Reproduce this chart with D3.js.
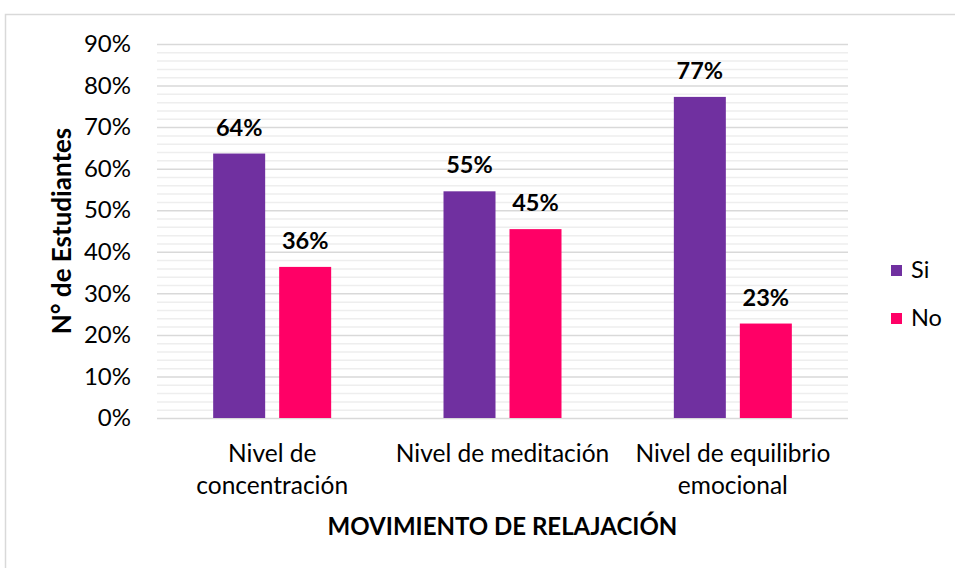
<!DOCTYPE html>
<html>
<head lang="es">
    <meta charset="UTF-8">
    <title></title>
    <script src="https://cdn.jsdelivr.net/npm/d3@7"></script>
    <style>
        body{margin:0;background:#fff;}
        text{font-family:Lato,"Open Sans",sans-serif;fill:#000;}
        .grid-major line{stroke:#d9d9d9;stroke-width:1.5px;}
        .grid-minor line{stroke:#eeeeee;stroke-width:1.5px;}
        .axis path,.axis line{display:none;}
    </style>
</head>
<body>
<script>
    var categorias=[["Nivel de","concentración"],["Nivel de meditación"],["Nivel de equilibrio","emocional"]];
    var series=["Si","No"];
    var valoresSi=[63.64,54.55,77.27];
    var valoresNo=[36.36,45.45,22.73];
    var ticksY=[0,10,20,30,40,50,60,70,80,90];
    var colores=["#7030a0","#ff0066"];

    var W=955,H=568;
    var margen={left:157,right:107,top:44,bottom:150};
    var ancho=W-margen.left-margen.right,alto=H-margen.top-margen.bottom;

    var svg=d3.select("body").append("svg").attr("width",W).attr("height",H);
    //borde del grafico
    svg.append("rect").attr("x",5.5).attr("y",14.5).attr("width",W).attr("height",H)
        .attr("fill","none").attr("stroke","#d9d9d9").attr("stroke-width",1.5);

    var g=svg.append("g").attr("transform","translate("+margen.left+","+margen.top+")");

    var x0=d3.scaleBand().domain(d3.range(categorias.length)).range([0,ancho]).paddingInner(0).paddingOuter(0);
    var y=d3.scaleLinear().domain([0,90]).range([alto,0]);

    //lineas menores cada 2%
    g.append("g").attr("class","grid-minor")
        .call(d3.axisLeft(y).tickValues(d3.range(0,91,2).filter(function(v){return v%10!=0;})).tickSize(-ancho).tickFormat(""))
        .select(".domain").remove();
    g.append("g").attr("class","grid-major")
        .call(d3.axisLeft(y).tickValues(ticksY).tickSize(-ancho).tickFormat(""))
        .select(".domain").remove();

    g.append("g").attr("class","axis")
        .call(d3.axisLeft(y).tickValues(ticksY).tickFormat(function(d){return d+"%";}).tickSize(0).tickPadding(26))
        .selectAll("text").style("font-size","24px");

    var anchoBarra=52,separacion=14;
    var datos=[];
    categorias.forEach(function(c,i){
        datos.push({cat:i,serie:0,valor:valoresSi[i]});
        datos.push({cat:i,serie:1,valor:valoresNo[i]});
    });
    function xBarra(d){
        var centro=x0(d.cat)+x0.bandwidth()/2;
        return d.serie==0?centro-separacion/2-anchoBarra:centro+separacion/2;
    }
    g.selectAll("rect.barra").data(datos).enter().append("rect")
        .attr("class","barra")
        .attr("x",xBarra)
        .attr("y",function(d){return y(d.valor);})
        .attr("width",anchoBarra)
        .attr("height",function(d){return alto-y(d.valor);})
        .attr("fill",function(d){return colores[d.serie];});

    g.selectAll("text.etiqueta").data(datos).enter().append("text")
        .attr("class","etiqueta")
        .attr("x",function(d){return xBarra(d)+anchoBarra/2;})
        .attr("y",function(d){return y(d.valor)-18;})
        .attr("text-anchor","middle")
        .style("font-size","23.5px").style("font-weight","bold")
        .text(function(d){return Math.round(d.valor)+"%";});

    //etiquetas de categoria
    var etq=g.selectAll("text.cat").data(categorias).enter().append("text")
        .attr("class","cat")
        .attr("text-anchor","middle")
        .attr("transform",function(d,i){return "translate("+(x0(i)+x0.bandwidth()/2)+","+(alto+44)+")";})
        .style("font-size","24.5px");
    etq.selectAll("tspan").data(function(d){return d;}).enter().append("tspan")
        .attr("x",0).attr("dy",function(d,i){return i==0?0:32;})
        .text(function(d){return d;});

    svg.append("text").attr("x",margen.left+ancho/2).attr("y",535)
        .attr("text-anchor","middle").style("font-size","24px").style("font-weight","bold")
        .text("MOVIMIENTO DE RELAJACIÓN");

    svg.append("text").attr("transform","translate(71,"+(margen.top+alto/2)+") rotate(-90)")
        .attr("text-anchor","middle").style("font-size","26px").style("font-weight","bold")
        .text("N° de Estudiantes");

    var ley=svg.selectAll("g.ley").data(series).enter().append("g")
        .attr("transform",function(d,i){return "translate(891,"+(265+i*48)+")";});
    ley.append("rect").attr("width",11).attr("height",11).attr("fill",function(d,i){return colores[i];});
    ley.append("text").attr("x",20).attr("y",13).style("font-size","23.5px").text(function(d){return d;});
</script>
</body>
</html>
